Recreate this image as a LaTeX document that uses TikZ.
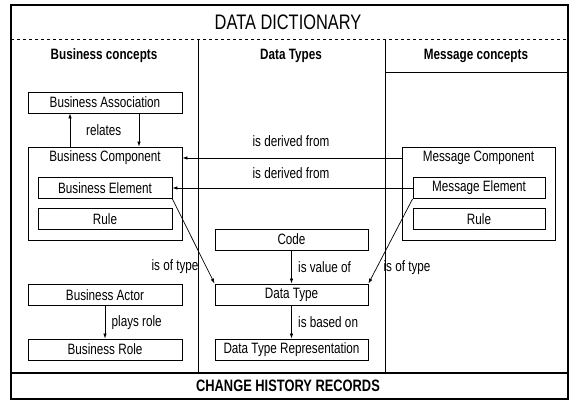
\documentclass[tikz,border=0pt]{standalone}
\usepackage{fontspec}
\setmainfont{Liberation Sans}[FakeStretch=0.78]
\usetikzlibrary{arrows.meta,calc}
\tikzset{
  box/.style={draw, line width=0.9pt, minimum width=154pt, minimum height=21pt, inner sep=0pt, font=\fontsize{15}{17}\selectfont},
  inbox/.style={box, minimum width=134pt},
  grp/.style={draw, line width=0.9pt, minimum width=154pt, minimum height=93pt, inner sep=0pt},
  lbl/.style={font=\fontsize{15}{17}\selectfont, inner sep=1pt},
  head/.style={font=\fontsize{15}{17}\selectfont\bfseries},
  arr/.style={-{Latex[length=5pt,width=3.5pt]}, line width=0.7pt}
}
\begin{document}
\begin{tikzpicture}[x=1pt,y=-1pt]
        \useasboundingbox (0,0) rectangle (576,403);

        \draw[line width=2pt] (11,5) rectangle (568,399);
        \draw[line width=1pt, dashed] (11,40) -- (568,40);
        \draw[line width=2pt] (11,373) -- (568,373);
        \draw[line width=0.8pt] (198,40) -- (198,373);
        \draw[line width=0.8pt] (385,40) -- (385,373);
        \draw[line width=1pt] (385,73) -- (568,73);

        \node at (288,22) (title) {\fontsize{21}{23}\selectfont DATA DICTIONARY};
        \node at (288,386) (hist) {\fontsize{16.5}{18}\selectfont\bfseries CHANGE HISTORY RECORDS};
        \node[head] at (104,56) (bushead) {Business concepts};
        \node[head] at (291,56) (dthead) {Data Types};
        \node[head] at (476,56) (msghead) {Message concepts};

        \node[box] at (105,102.5) (bassoc) {Business Association};
        \node[grp] at (105,193.5) (bcomp) {};
        \node[lbl] at (105,158) (bcompt) {Business Component};
        \node[inbox] at (105,188) (belem) {Business Element};
        \node[inbox] at (105,219) (brule) {Rule};
        \node[box] at (105,295) (bactor) {Business Actor};
        \node[box] at (105,349.5) (brole) {Business Role};

        \node[box, minimum width=153pt] at (291.5,239.5) (code) {Code};
        \node[box, minimum width=153pt] at (291.5,294.5) (dtype) {Data Type};
        \node[box, minimum width=153pt] at (291.5,349.5) (dtrep) {Data Type Representation};

        \node[grp, minimum width=153pt] at (478.5,193.5) (mcomp) {};
        \node[lbl] at (478.5,158) (mcompt) {Message Component};
        \node[inbox, minimum width=132pt] at (479,188) (melem) {Message Element};
        \node[inbox, minimum width=132pt] at (479,219) (mrule) {Rule};

        \draw[arr] ($(bcomp.north)+(-35,0)$) -- ($(bassoc.south)+(-35,0)$);
        \draw[arr] ($(bassoc.south)+(34,0)$) -- ($(bcomp.north)+(34,0)$) node [midway, left=14pt] (rel) {\fontsize{15}{17}\selectfont relates};
        \draw[arr] (bactor) -- (brole) node [midway, right=3pt] (plays) {\fontsize{15}{17}\selectfont plays role};
        \draw[arr] (code) -- (dtype) node [midway, right=3pt] (valof) {\fontsize{15}{17}\selectfont is value of};
        \draw[arr] (dtype) -- (dtrep) node [midway, right=3pt] (based) {\fontsize{15}{17}\selectfont is based on};

        \draw[arr] (mcomp.west |- mcompt) -- (bcomp.east |- mcompt);
        \draw[arr] (melem.west) -- (belem.east);
        \node[lbl] at (291,141) (der1) {is derived from};
        \node[lbl] at (291,173) (der2) {is derived from};

        \draw[arr] (belem.south east) -- (dtype.north west);
        \draw[arr] (melem.south west) -- (dtype.north east);
        \node[lbl] at (175,267) (oftl) {is of type};
        \node[lbl] at (407,268) (oftr) {is of type};
    \end{tikzpicture}
\end{document}
